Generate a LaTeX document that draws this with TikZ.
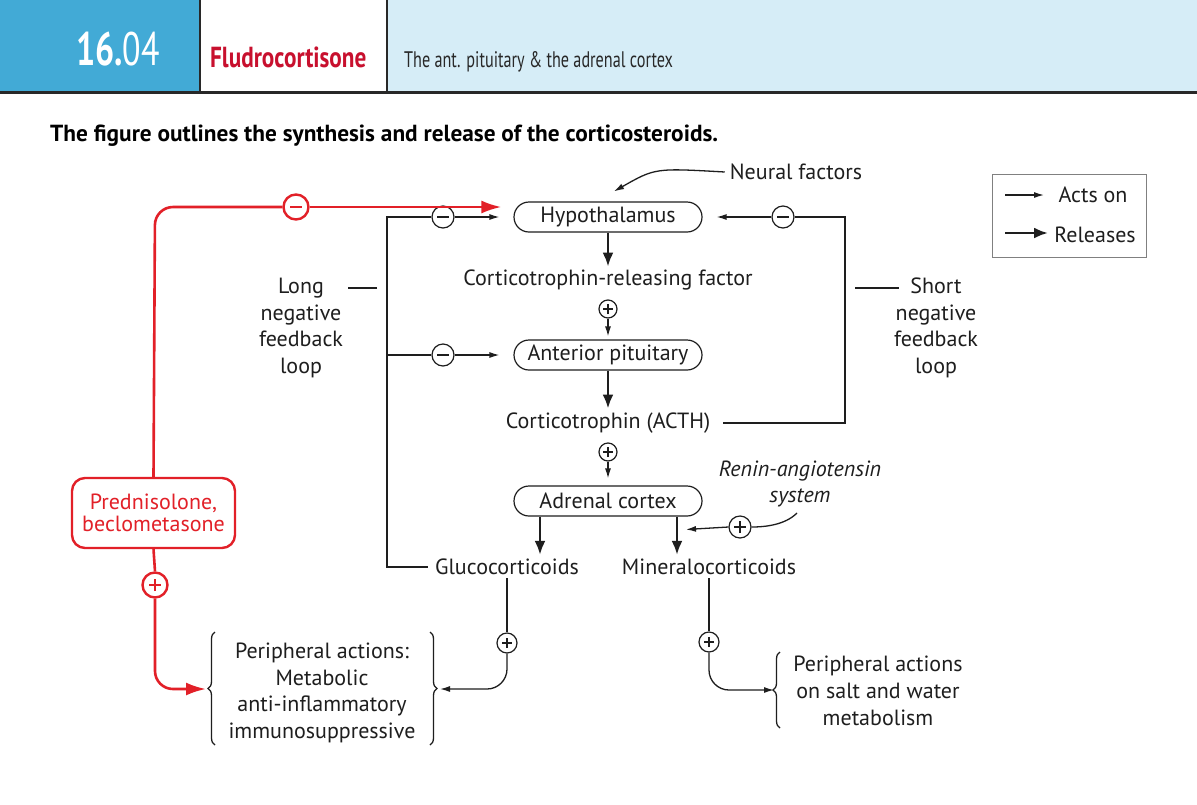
\documentclass[tikz,border=0pt]{standalone}
\usepackage{fontspec}
\setmainfont{PT Sans}
\newfontfamily\condfont[FakeStretch=0.80]{PT Sans}
\newfontfamily\narrowfont[FakeStretch=0.72]{PT Sans}
\usetikzlibrary{arrows.meta,decorations.pathreplacing}
\definecolor{hdrblue}{RGB}{66,170,214}
\definecolor{hdrlight}{RGB}{214,237,247}
\definecolor{drugred}{RGB}{226,32,40}
\definecolor{titred}{RGB}{200,16,46}
\definecolor{hdrline}{RGB}{40,40,40}
\definecolor{txt}{RGB}{30,30,30}
\tikzset{
  act/.style={line width=1.3, -{Latex[length=10,width=6]}},
  rel/.style={line width=2.6, -{Latex[length=14,width=11]}},
  redline/.style={line width=2.6, drugred, rounded corners=18},
  redarrow/.style={redline, -{Latex[length=20,width=13]}},
  stadium/.style={draw, line width=1.2, rounded corners=15, minimum width=188, minimum height=30, inner sep=0},
  lbl/.style={inner sep=1, align=center},
  signcirc/.style={circle, draw, line width=1.2, fill=white, inner sep=0, minimum size=22},
  minussign/.style={signcirc, path picture={\draw[line width=1.8] ([xshift=-6pt]path picture bounding box.center) -- ([xshift=6pt]path picture bounding box.center);}},
  plussign/.style={signcirc, path picture={\draw[line width=1.4] ([xshift=-6pt]path picture bounding box.center) -- ([xshift=6pt]path picture bounding box.center) ([yshift=-6pt]path picture bounding box.center) -- ([yshift=6pt]path picture bounding box.center);}},
  smallplus/.style={signcirc, minimum size=18, path picture={\draw[line width=1.2] ([xshift=-5pt]path picture bounding box.center) -- ([xshift=5pt]path picture bounding box.center) ([yshift=-5pt]path picture bounding box.center) -- ([yshift=5pt]path picture bounding box.center);}},
  redminus/.style={signcirc, draw=drugred, line width=2.4, minimum size=25, path picture={\draw[drugred, line width=2] ([xshift=-6pt]path picture bounding box.center) -- ([xshift=6pt]path picture bounding box.center);}},
  redplus/.style={signcirc, draw=drugred, line width=2.4, minimum size=25, path picture={\draw[drugred, line width=2] ([xshift=-6pt]path picture bounding box.center) -- ([xshift=6pt]path picture bounding box.center) ([yshift=-6pt]path picture bounding box.center) -- ([yshift=6pt]path picture bounding box.center);}},
  bracestyle/.style={line width=1.3, decorate, decoration={brace, amplitude=7}},
}
\begin{document}
\begin{tikzpicture}[x=1pt,y=-1pt, font=\fontsize{22}{26.7}\selectfont, color=txt]
\useasboundingbox (0,0) rectangle (1197,804);
\fill[white] (0,0) rectangle (1197,804);
% header
\fill[hdrblue] (0,0) rectangle (200,92);
\fill[hdrlight] (387,0) rectangle (1197,92);
\draw[hdrline, line width=2] (200,0) -- (200,92) (387,0) -- (387,92);
\draw[hdrline, line width=3] (0,92) -- (1197,92);
\node[anchor=base, text=white, inner sep=0] (num) at (118,65) {\narrowfont\fontsize{47}{47}\selectfont\bfseries 16.\mdseries 04};
\node[anchor=base west, text=titred, inner sep=0] (ttl) at (210,67) {\condfont\fontsize{29}{29}\selectfont\bfseries Fludrocortisone};
\node[anchor=base west, text=hdrline, inner sep=0] (sub) at (404,67) {\narrowfont\fontsize{22.5}{23}\selectfont The ant. pituitary \& the adrenal cortex};
\node[anchor=base west, inner sep=0, text=black] (cap) at (50,141) {\fontsize{23.3}{24}\selectfont\bfseries The figure outlines the synthesis and release of the corticosteroids.};

% main nodes
\node[stadium] (hyp) at (608,217) {Hypothalamus};
\node[lbl] (crf) at (608,280) {Corticotrophin-releasing factor};
\node[stadium] (ant) at (608,355) {Anterior pituitary};
\node[lbl] (acth) at (608,423) {Corticotrophin (ACTH)};
\node[stadium] (adr) at (608,501) {Adrenal cortex};
\node[lbl] (gluc) at (507,567) {Glucocorticoids};
\node[lbl] (mine) at (709,567) {Mineralocorticoids};
\node[lbl] (neural) at (796,172) {Neural factors};
\node[lbl, font=\fontsize{22}{26}\selectfont\itshape] (renin) at (800,484) {Renin-angiotensin\\system};
\node[lbl] (longl) at (301,328) {Long\\negative\\feedback\\loop};
\node[lbl] (shortl) at (936,328) {Short\\negative\\feedback\\loop};
\node[lbl] (periph) at (322,693) {Peripheral actions:\\Metabolic\\anti-inflammatory\\immunosuppressive};
\node[lbl] (salt) at (878,691) {Peripheral actions\\on salt and water\\metabolism};
\node[draw=drugred, line width=2.4, rounded corners=13, minimum width=163, minimum height=70, text=drugred, align=center, font=\fontsize{22}{21.5}\selectfont] (pred) at (153.5,513) {Prednisolone,\\beclometasone};

% sign circles
\node[redminus] (rm) at (296,207) {};
\node[redplus] (rp) at (155,585) {};
\node[minussign] (m1) at (443,217) {};
\node[minussign] (m2) at (443,355) {};
\node[minussign] (m3) at (783,217) {};
\node[smallplus] (p1) at (608,309) {};
\node[smallplus] (p2) at (608,452) {};
\node[plussign] (p3) at (740,527) {};
\node[smallplus, minimum size=20] (p4) at (507,643) {};
\node[smallplus, minimum size=20] (p5) at (709,642) {};

% helper coordinates
\coordinate (loopTop) at (387,217);
\coordinate (loopMid) at (387,355);
\coordinate (loopBot) at (387,567);
\coordinate (shortBot) at (845,423);
\coordinate (shortTop) at (845,217);
\coordinate (redCorner) at (155,207);
\coordinate (longTick) at (377,288);
\coordinate (shortTick) at (855,288);
\coordinate (lbraceTip) at (206,689);
\coordinate (rbraceTip) at (440,689);
\coordinate (sbraceTip) at (774,690);
\coordinate (reninStart) at (797,513);
\coordinate (mineIn) at (686,529.5);

% red pathway
\draw[redline] (pred.north) -- (redCorner) -- (rm.west);
\draw[redarrow] (rm.east) -- ([xshift=-12pt,yshift=10pt]hyp.west);
\draw[redline] (pred.south) -- (rp.north);
\draw[redarrow] (rp.south) |- (lbraceTip);

% long loop
\draw[line width=1.3] ([xshift=-6pt]gluc.west) -- (loopBot) -- (loopTop) -- (m1.west);
\draw[act] (m1.east) -- ([xshift=-14pt]hyp.west);
\draw[line width=1.3] (loopMid) -- (m2.west);
\draw[act] (m2.east) -- ([xshift=-14pt]ant.west);
\draw[line width=1.3] (longTick) -- ++(-29,0);

% short loop
\draw[line width=1.3] ([xshift=12pt]acth.east) -- (shortBot) -- (shortTop) -- (m3.east);
\draw[act] (m3.west) -- ([xshift=14pt]hyp.east);
\draw[line width=1.3] (shortTick) -- ++(44,0);

% releases
\draw[rel] (hyp.south) -- ([yshift=2pt]crf.north);
\draw[act] (p1.south) -- ([yshift=3pt]ant.north);
\draw[rel] (ant.south) -- ([yshift=3pt]acth.north);
\draw[act] (p2.south) -- ([yshift=7pt]adr.north);
\draw[rel] ([xshift=-68pt]adr.south) -- ([xshift=33pt,yshift=3pt]gluc.north);
\draw[rel] ([xshift=69pt]adr.south) -- ([xshift=-32pt,yshift=3pt]mine.north);

% neural factors & renin
\draw[act] ([xshift=-4pt]neural.west) .. controls (655,168) .. ([xshift=6pt,yshift=10pt]hyp.north);
\draw[line width=1.3] (reninStart) .. controls (785,525) and (765,527) .. (p3.east);
\draw[act] (p3.west) -- (mineIn);

% peripheral
\draw[line width=1.3] ([yshift=-2pt]gluc.south) -- (p4.north);
\draw[act, rounded corners=20] (p4.south) |- (rbraceTip);
\draw[line width=1.3] ([yshift=-2pt]mine.south) -- (p5.north);
\draw[act, rounded corners=20] (p5.south) |- (sbraceTip);

% braces
\draw[bracestyle] (215,745) -- (215,632);
\draw[bracestyle] (430,632) -- (430,745);
\draw[bracestyle] (780,728) -- (780,652);

% legend
\draw[line width=1, gray] (992,174) rectangle (1146,257);
\coordinate (la1) at (1005,195);
\coordinate (la2) at (1044,195);
\coordinate (lb1) at (1005,233);
\coordinate (lb2) at (1048,233);
\draw[act] (la1) -- (la2);
\draw[rel] (lb1) -- (lb2);
\node[lbl] (actson) at (1093,195) {Acts on};
\node[lbl] (releases) at (1095,235) {Releases};
\end{tikzpicture}
\end{document}
